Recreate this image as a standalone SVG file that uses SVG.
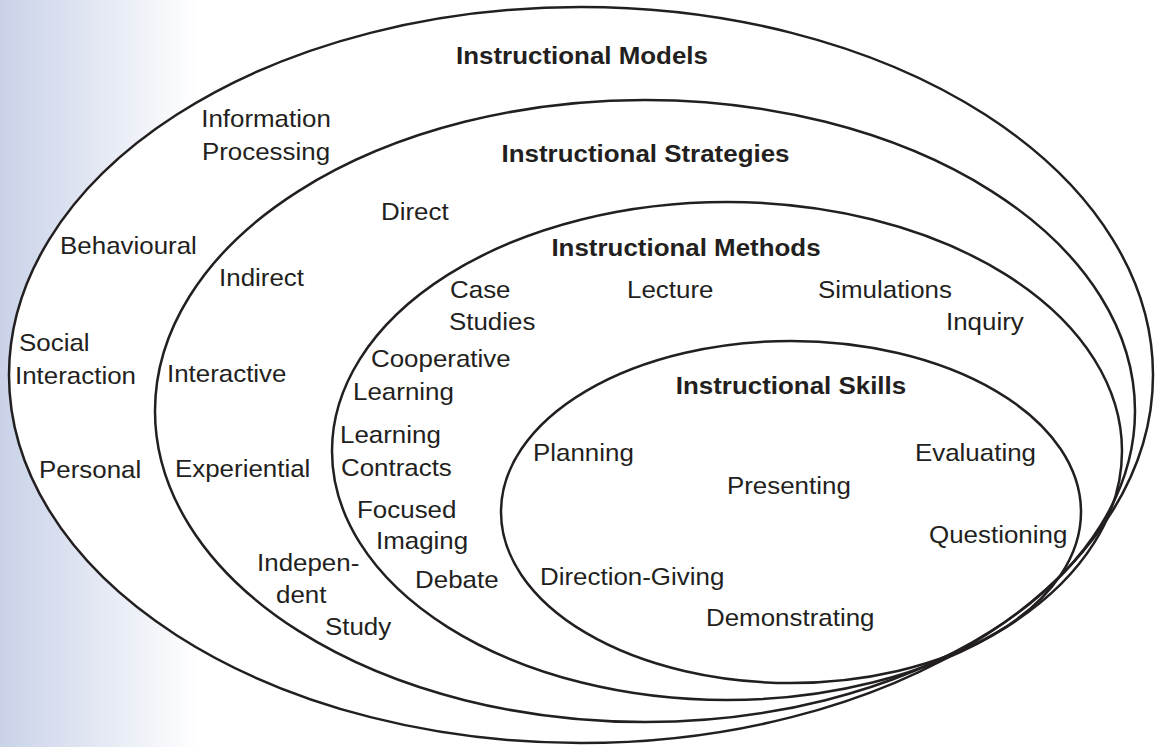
<svg xmlns="http://www.w3.org/2000/svg" width="1162" height="747" viewBox="0 0 1162 747">
<defs>
<linearGradient id="bg" gradientUnits="userSpaceOnUse" x1="0" y1="0" x2="200" y2="0">
<stop offset="0" stop-color="#c9d2e8"/>
<stop offset="1" stop-color="#ffffff"/>
</linearGradient>
<style>
.ring{fill:none;stroke:#231f20;stroke-width:2.5}
.lbl{font-family:"Liberation Sans",Arial,sans-serif;font-size:24px;fill:#231f20}
.ttl{font-family:"Liberation Sans",Arial,sans-serif;font-size:24px;font-weight:bold;fill:#231f20;text-anchor:middle}
.mid{text-anchor:middle}
</style>
</defs>
<rect x="0" y="0" width="1162" height="747" fill="url(#bg)"/>
<g id="models">
<ellipse cx="581" cy="375" rx="572" ry="368" fill="#ffffff" stroke="none"/>
<ellipse class="ring" cx="581" cy="375" rx="572" ry="368"/>
<g transform="scale(1.08 1)">
<text class="ttl" x="538.9" y="64">Instructional Models</text>
<text class="lbl mid" x="246.3" y="127">Information</text>
<text class="lbl mid" x="246.3" y="160">Processing</text>
<text class="lbl" x="55.6" y="254">Behavioural</text>
<text class="lbl" x="17.6" y="351">Social</text>
<text class="lbl" x="13.9" y="384">Interaction</text>
<text class="lbl" x="36.1" y="478">Personal</text>
</g>
</g>
<g id="strategies">
<ellipse class="ring" cx="645" cy="411" rx="490" ry="311"/>
<g transform="scale(1.08 1)">
<text class="ttl" x="597.7" y="162">Instructional Strategies</text>
<text class="lbl" x="352.8" y="220">Direct</text>
<text class="lbl" x="202.8" y="286">Indirect</text>
<text class="lbl" x="154.6" y="382">Interactive</text>
<text class="lbl" x="162" y="477">Experiential</text>
<text class="lbl" x="238" y="571">Indepen-</text>
<text class="lbl" x="255.6" y="603">dent</text>
<text class="lbl" x="300.9" y="635">Study</text>
</g>
</g>
<g id="methods">
<ellipse class="ring" cx="727" cy="451" rx="395" ry="249"/>
<g transform="scale(1.08 1)">
<text class="ttl" x="635.2" y="256">Instructional Methods</text>
<text class="lbl" x="416.7" y="298">Case</text>
<text class="lbl" x="415.7" y="330">Studies</text>
<text class="lbl" x="580.6" y="298">Lecture</text>
<text class="lbl" x="757.4" y="298">Simulations</text>
<text class="lbl" x="875.9" y="330">Inquiry</text>
<text class="lbl" x="343.5" y="367">Cooperative</text>
<text class="lbl" x="326.9" y="400">Learning</text>
<text class="lbl" x="314.8" y="443">Learning</text>
<text class="lbl" x="315.7" y="476">Contracts</text>
<text class="lbl" x="330.6" y="518">Focused</text>
<text class="lbl" x="348.1" y="549">Imaging</text>
<text class="lbl" x="384.3" y="588">Debate</text>
</g>
</g>
<g id="skills">
<ellipse class="ring" cx="791" cy="512" rx="290" ry="171"/>
<g transform="scale(1.08 1)">
<text class="ttl" x="732.4" y="394">Instructional Skills</text>
<text class="lbl" x="493.5" y="461">Planning</text>
<text class="lbl" x="847.2" y="461">Evaluating</text>
<text class="lbl" x="673.1" y="494">Presenting</text>
<text class="lbl" x="860.2" y="543">Questioning</text>
<text class="lbl" x="500" y="585">Direction-Giving</text>
<text class="lbl" x="653.7" y="626">Demonstrating</text>
</g>
</g>
<g id="connectors"/>
</svg>
